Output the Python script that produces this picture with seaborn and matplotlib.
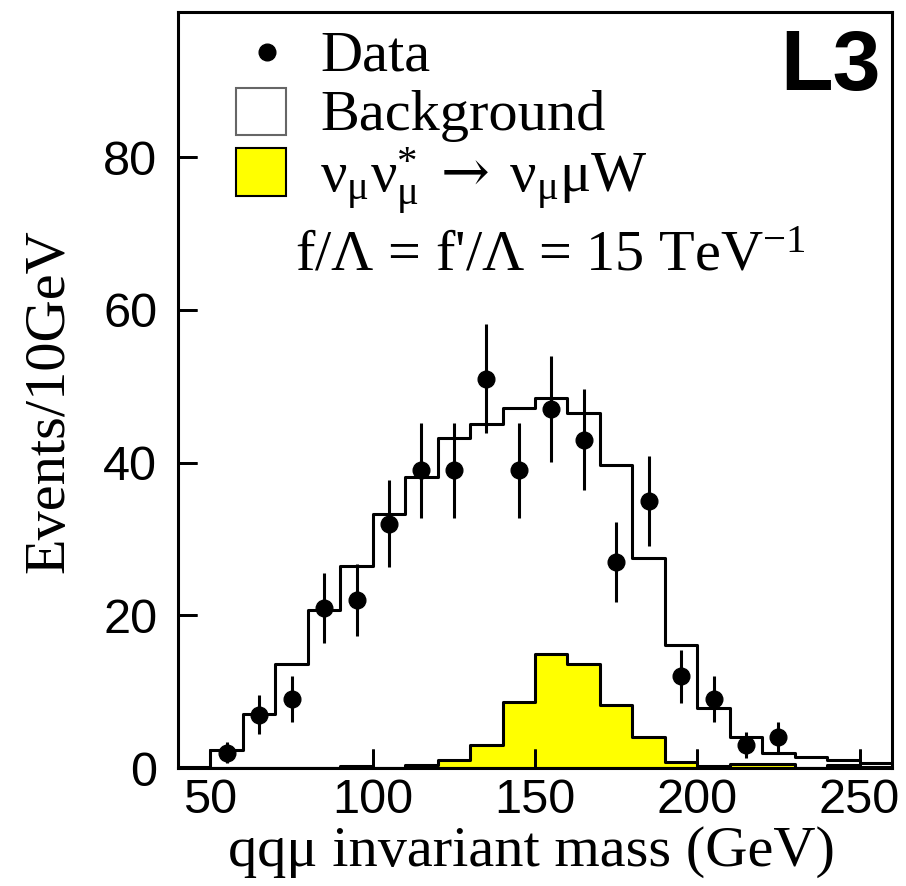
import numpy as np
import pandas as pd
import matplotlib
matplotlib.use("Agg")
import matplotlib.pyplot as plt
from matplotlib.patches import Rectangle
import seaborn as sns

# 10 GeV bins of the qq-mu invariant mass, 40-260 GeV
bin_edges = [40, 50, 60, 70, 80, 90, 100, 110, 120, 130, 140, 150, 160,
             170, 180, 190, 200, 210, 220, 230, 240, 250, 260]
bin_centers = [e + 5 for e in bin_edges[:-1]]

# Expected Standard Model background per bin
background = [0.1, 2.4, 7.1, 13.6, 20.7, 26.5, 33.2, 38.1, 43.2, 45.1, 47.1,
              48.4, 46.5, 39.7, 27.5, 16.1, 7.9, 4.0, 2.0, 1.5, 1.05, 0.6]

# Excited-neutrino signal expectation per bin
signal = [0.0, 0.0, 0.0, 0.0, 0.0, 0.2, 0.05, 0.4, 1.1, 3.0, 8.7,
          14.9, 13.6, 8.2, 4.0, 0.8, 0.3, 0.5, 0.5, 0.05, 0.4, 0.1]

# Observed events
data_mass = [55, 65, 75, 85, 95, 105, 115, 125, 135, 145, 155, 165, 175,
             185, 195, 205, 215, 225]
data_counts = [2, 7, 9, 21, 22, 32, 39, 39, 51, 39, 47, 43, 27, 35, 12, 9, 3, 4]
data_errors = [1.4, 2.6, 3.0, 4.6, 4.7, 5.7, 6.2, 6.2, 7.1, 6.2, 6.9, 6.6,
               5.2, 5.9, 3.5, 3.0, 1.7, 2.0]

x_ticks = [50, 100, 150, 200, 250]
y_ticks = [0, 20, 40, 60, 80]

sns.set_style("ticks", rc={
    "axes.edgecolor": "black", "axes.labelcolor": "black",
    "text.color": "black", "xtick.color": "black", "ytick.color": "black",
    "xtick.direction": "in", "ytick.direction": "in",
    "axes.axisbelow": False,
})
plt.rcParams["font.family"] = ["Liberation Serif", "DejaVu Serif"]
plt.rcParams["mathtext.fontset"] = "custom"
plt.rcParams["mathtext.rm"] = "Liberation Serif"
plt.rcParams["mathtext.it"] = "Liberation Serif:italic"
plt.rcParams["mathtext.bf"] = "Liberation Serif:bold"
plt.rcParams["mathtext.sf"] = "DejaVu Serif"

hist_df = pd.DataFrame({"mass": bin_centers, "bkg": background, "sig": signal})

fig = plt.figure(figsize=(9.06, 8.86), dpi=100)
ax = fig.add_axes([178 / 906, 118 / 886, 714 / 906, 756 / 886])

# Signal: filled yellow histogram
sns.histplot(data=hist_df, x="mass", weights="sig", bins=bin_edges,
             element="step", fill=True, color="#ffff00", alpha=1.0,
             edgecolor="black", linewidth=2.2, ax=ax, zorder=2)
# Background: open black histogram
sns.histplot(data=hist_df, x="mass", weights="bkg", bins=bin_edges,
             element="step", fill=False, color="black", linewidth=2.2,
             ax=ax, zorder=3)
# Data points with statistical errors
ax.errorbar(data_mass, data_counts, yerr=data_errors, fmt="o", color="black",
            ms=12, elinewidth=2.2, capsize=0, zorder=5)

ax.set_xlim(40, 260)
ax.set_ylim(0, 99)
ax.set_xticks(x_ticks)
ax.set_yticks(y_ticks)
ax.minorticks_off()
ax.tick_params(axis="both", which="major", direction="in", length=14,
               width=2, color="black", labelcolor="black", labelsize=35,
               top=False, right=False, bottom=True, left=True)
ax.tick_params(axis="x", pad=7)
ax.tick_params(axis="y", pad=15)
for lbl in ax.get_xticklabels() + ax.get_yticklabels():
    lbl.set_fontfamily("Liberation Sans")

# Inward tick marks along the bottom and left frame
ax.vlines(x_ticks, 0, 19 / 756, transform=ax.get_xaxis_transform(),
          colors="black", linewidth=2, clip_on=False, zorder=4)
ax.hlines(y_ticks, 0, 19 / 714, transform=ax.get_yaxis_transform(),
          colors="black", linewidth=2, clip_on=False, zorder=4)

for sp in ax.spines.values():
    sp.set_visible(True)
    sp.set_linewidth(2.2)
    sp.set_color("black")

ax.set_xlabel("qqμ invariant mass (GeV)", fontsize=42, va="baseline")
ax.xaxis.set_label_coords(0.4944, -0.1296)
ax.set_ylabel("Events/10GeV", fontsize=42, va="baseline")
ax.yaxis.set_label_coords(-0.161, 0.4854)

# Legend entries
tr = ax.transAxes
ax.plot([0.1246], [0.947], "o", color="black", ms=12, transform=tr,
        clip_on=False, zorder=6)
ax.add_patch(Rectangle((0.0812, 0.837), 0.070, 0.0622, transform=tr,
                       facecolor="white", edgecolor="#666666", lw=1.5,
                       zorder=6))
ax.add_patch(Rectangle((0.0812, 0.7566), 0.070, 0.0635, transform=tr,
                       facecolor="#ffff00", edgecolor="black", lw=1.5,
                       zorder=6))
ax.text(0.1989, 0.922, "Data", transform=tr, fontsize=42, va="baseline")
ax.text(0.1989, 0.8439, "Background", transform=tr, fontsize=42,
        va="baseline")
ax.text(0.1989, 0.7606,
        r"$\mathrm{ν_{μ}ν_{μ}^{*}}\;\mathsf{\rightarrow}\;\mathrm{ν_{μ}μW}$",
        transform=tr, fontsize=42, va="baseline")
ax.text(0.1639, 0.6587, "f/Λ = f'/Λ = 15 TeV$^{\\mathrm{-1}}$",
        transform=tr, fontsize=42, va="baseline")

# Experiment tag
ax.text(0.9846, 0.8968, "L3", transform=tr, fontsize=62, fontweight="bold",
        family="Liberation Sans", ha="right", va="baseline")

fig.savefig("out.png", dpi=100)
